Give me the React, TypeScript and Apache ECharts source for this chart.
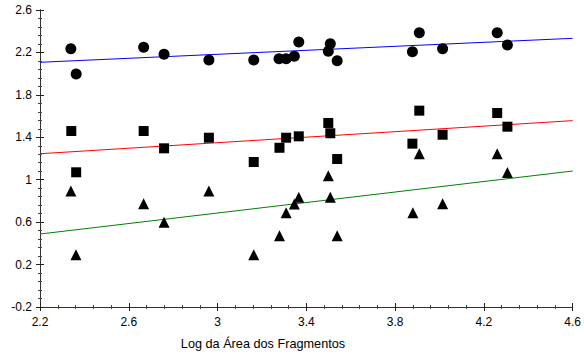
import React, { useEffect, useRef } from "react";
import * as echarts from "echarts";

// Data
const circleX = [2.339, 2.363, 2.667, 2.759, 2.961, 3.163, 3.277, 3.309, 3.346, 3.366, 3.499, 3.508, 3.539, 3.878, 3.909, 4.014, 4.26, 4.306];
const circleY = [2.235, 1.997, 2.248, 2.182, 2.129, 2.129, 2.141, 2.141, 2.163, 2.298, 2.211, 2.282, 2.122, 2.207, 2.386, 2.235, 2.386, 2.27];

const squareX = [2.341, 2.363, 2.667, 2.759, 2.961, 3.163, 3.279, 3.309, 3.366, 3.499, 3.508, 3.539, 3.878, 3.909, 4.014, 4.26, 4.306];
const squareY = [1.459, 1.07, 1.459, 1.296, 1.396, 1.167, 1.301, 1.396, 1.409, 1.535, 1.438, 1.195, 1.34, 1.651, 1.424, 1.629, 1.5];

const triangleX = [2.339, 2.362, 2.667, 2.759, 2.961, 3.163, 3.279, 3.309, 3.346, 3.366, 3.499, 3.508, 3.539, 3.88, 3.909, 4.014, 4.26, 4.306];
const triangleY = [0.894, 0.293, 0.774, 0.599, 0.894, 0.293, 0.472, 0.689, 0.771, 0.834, 1.038, 0.834, 0.472, 0.689, 1.245, 0.774, 1.245, 1.068];

const fitX = [2.2, 4.6];
const blueFitY = [2.107, 2.333];
const redFitY = [1.245, 1.557];
const greenFitY = [0.488, 1.082];

const xTickLabels = ["2.2", "2.6", "3", "3.4", "3.8", "4.2", "4.6"];
const yTickLabels = ["-0.2", "0.2", "0.6", "1", "1.4", "1.8", "2.2", "2.6"];

const X_MIN = 2.2;
const Y_MIN = -0.2;
const STEP = 0.4;

const toPts = (xs: number[], ys: number[]) =>
  xs.map((x, i) => [x - X_MIN, ys[i] - Y_MIN]);

const FONT = "'Liberation Sans', Arial, sans-serif";

export default function App() {
  const ref = useRef<HTMLDivElement>(null);
  useEffect(() => {
    if (!ref.current) return;
    const chart = echarts.init(ref.current, undefined, { renderer: "svg" });
    const axisLine = { show: true, lineStyle: { color: "#333", width: 1 } };
    const axisTick = { show: true, inside: true, length: 4, lineStyle: { color: "#222" } };
    const minorTick = { show: true, splitNumber: 5, length: 2, lineStyle: { color: "#444" } };
    const xSpan = (xTickLabels.length - 1) * STEP;
    const ySpan = (yTickLabels.length - 1) * STEP;
    const xBase = {
      type: "value",
      min: 0,
      max: xSpan,
      interval: STEP,
      axisLine,
      axisTick,
      minorTick,
      splitLine: { show: false },
      minorSplitLine: { show: false },
    };
    const yBase = {
      type: "value",
      min: 0,
      max: ySpan,
      interval: STEP,
      axisLine,
      axisTick,
      minorTick,
      splitLine: { show: false },
      minorSplitLine: { show: false },
    };
    const lineSeries = (ys: number[], color: string) => ({
      type: "line",
      data: toPts(fitX, ys),
      symbol: "none",
      lineStyle: { color, width: 1 },
      z: 1,
      silent: true,
    });
    const scatter = (xs: number[], ys: number[], symbol: string, size: number) => ({
      type: "scatter",
      data: toPts(xs, ys),
      symbol,
      symbolSize: size,
      itemStyle: { color: "#000", opacity: 1 },
      z: 3,
    });
    chart.setOption({
      animation: false,
      backgroundColor: "#fff",
      grid: { left: 40, right: 10, top: 10, bottom: 51, containLabel: false },
      xAxis: [
        {
          ...xBase,
          position: "bottom",
          axisLabel: {
            show: true,
            color: "#000",
            fontSize: 12,
            fontFamily: FONT,
            margin: 9,
            formatter: (v: number) => xTickLabels[Math.round(v / STEP)] ?? "",
          },
        },
        { ...xBase, position: "top", axisLabel: { show: false } },
      ],
      yAxis: [
        {
          ...yBase,
          position: "left",
          axisLabel: {
            show: true,
            color: "#000",
            fontSize: 12,
            fontFamily: FONT,
            margin: 8,
            formatter: (v: number) => yTickLabels[Math.round(v / STEP)] ?? "",
          },
        },
        { ...yBase, position: "right", axisLabel: { show: false } },
      ],
      graphic: [
        {
          type: "text",
          x: 263,
          y: 344,
          style: {
            text: "Log da Área dos Fragmentos",
            fill: "#000",
            font: `12.7px ${FONT}`,
            textAlign: "center",
            textVerticalAlign: "middle",
          },
        },
      ],
      series: [
        lineSeries(blueFitY, "#0000ff"),
        lineSeries(redFitY, "#ff0000"),
        lineSeries(greenFitY, "#008000"),
        scatter(circleX, circleY, "circle", 11),
        scatter(squareX, squareY, "rect", 10),
        scatter(triangleX, triangleY, "triangle", 11),
      ],
    });
    return () => chart.dispose();
  }, []);
  return (
    <div
      ref={ref}
      style={{ position: "fixed", left: 0, top: 0, width: 584, height: 358 }}
    />
  );
}
